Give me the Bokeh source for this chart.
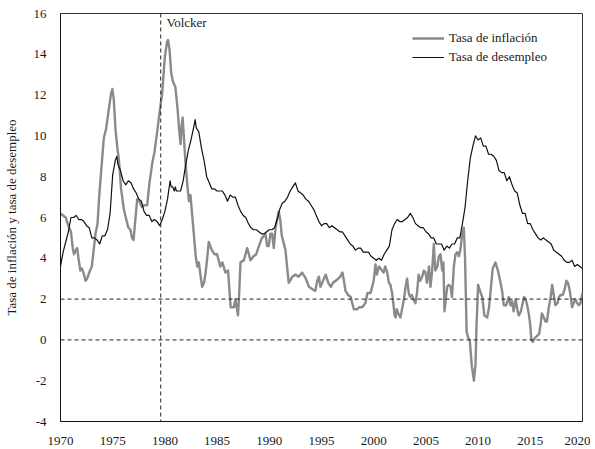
from bokeh.plotting import figure
from bokeh.models import Span, Label, Legend, LegendItem, FixedTicker, Range1d
from bokeh.embed import file_html
from bokeh.resources import INLINE

# ---------------- data ----------------
unemp_t = [1970.0, 1970.25, 1970.5, 1970.75,
           1971.0, 1971.25, 1971.5, 1971.75, 1972.0, 1972.25, 1972.5, 1972.75,
           1973.0, 1973.25, 1973.5, 1973.75, 1974.0, 1974.25, 1974.5, 1974.75,
           1975.0, 1975.25, 1975.4, 1975.5, 1975.75, 1976.0, 1976.25, 1976.5, 1976.75,
           1977.0, 1977.25, 1977.5, 1977.75, 1978.0, 1978.25, 1978.5, 1978.75,
           1979.0, 1979.25, 1979.5, 1979.75, 1980.0, 1980.25, 1980.5, 1980.6, 1980.75,
           1980.9, 1981.0, 1981.1, 1981.25, 1981.5, 1981.75, 1982.0, 1982.25, 1982.5, 1982.75, 1982.9,
           1983.0, 1983.25, 1983.5, 1983.75, 1984.0, 1984.25, 1984.5, 1984.75,
           1985.0, 1985.25, 1985.5, 1985.75, 1986.0, 1986.25, 1986.5, 1986.75,
           1987.0, 1987.25, 1987.5, 1987.75, 1988.0, 1988.25, 1988.5, 1988.75,
           1989.0, 1989.25, 1989.5, 1989.75, 1990.0, 1990.25, 1990.5, 1990.75,
           1991.0, 1991.25, 1991.5, 1991.75, 1992.0, 1992.25, 1992.5, 1992.75,
           1993.0, 1993.25, 1993.5, 1993.75, 1994.0, 1994.25, 1994.5, 1994.75,
           1995.0, 1995.25, 1995.5, 1995.75, 1996.0, 1996.25, 1996.5, 1996.75,
           1997.0, 1997.25, 1997.5, 1997.75, 1998.0, 1998.25, 1998.5, 1998.75,
           1999.0, 1999.25, 1999.5, 1999.75, 2000.0, 2000.25, 2000.5, 2000.75,
           2001.0, 2001.25, 2001.5, 2001.75, 2002.0, 2002.25, 2002.5, 2002.75,
           2003.0, 2003.25, 2003.5, 2003.75, 2004.0, 2004.25, 2004.5, 2004.75,
           2005.0, 2005.25, 2005.5, 2005.75, 2006.0, 2006.25, 2006.5, 2006.75,
           2007.0, 2007.25, 2007.5, 2007.75, 2008.0, 2008.25, 2008.5, 2008.75,
           2009.0, 2009.25, 2009.5, 2009.75, 2010.0, 2010.25, 2010.5, 2010.75,
           2011.0, 2011.25, 2011.5, 2011.75, 2012.0, 2012.25, 2012.5, 2012.75,
           2013.0, 2013.25, 2013.5, 2013.75, 2014.0, 2014.25, 2014.5, 2014.75,
           2015.0, 2015.25, 2015.5, 2015.75, 2016.0, 2016.25, 2016.5, 2016.75,
           2017.0, 2017.25, 2017.5, 2017.75, 2018.0, 2018.25, 2018.5, 2018.75,
           2019.0, 2019.25, 2019.5, 2019.75, 2020.0]
unemp_v = [3.6, 4.3, 4.8, 5.3,
           6.0, 6.0, 6.1, 5.9, 5.9, 5.8, 5.6, 5.5,
           5.0, 5.0, 4.9, 4.7, 5.1, 5.1, 5.4, 6.2,
           8.1, 8.8, 9.0, 8.6, 8.3, 7.8, 7.6, 7.8, 7.7,
           7.4, 7.2, 6.9, 6.8, 6.3, 6.1, 6.1, 5.8,
           5.9, 5.8, 5.6, 5.9, 6.3, 6.9, 7.8, 7.5, 7.5,
           7.3, 7.5, 7.3, 7.3, 7.3, 7.8, 8.6, 9.3, 9.8, 10.4, 10.8,
           10.4, 10.2, 9.4, 8.8, 8.0, 7.7, 7.4, 7.4,
           7.3, 7.3, 7.3, 7.1, 6.8, 7.1, 7.0, 7.0,
           6.6, 6.3, 6.1, 6.0, 5.7, 5.5, 5.4, 5.4,
           5.3, 5.2, 5.2, 5.3, 5.4, 5.4, 5.5, 5.9,
           6.4, 6.7, 6.8, 7.0, 7.3, 7.5, 7.7, 7.3,
           7.2, 7.1, 6.9, 6.8, 6.6, 6.4, 6.1, 5.8,
           5.6, 5.7, 5.7, 5.5, 5.6, 5.5, 5.4, 5.3,
           5.3, 5.1, 4.9, 4.7, 4.6, 4.4, 4.5, 4.5,
           4.3, 4.3, 4.3, 4.1, 4.0, 3.9, 4.0, 3.9,
           4.2, 4.4, 4.6, 5.4, 5.7, 5.9, 5.8, 5.8,
           5.9, 6.0, 6.2, 6.0, 5.7, 5.6, 5.5, 5.5,
           5.3, 5.2, 5.0, 5.0, 4.7, 4.7, 4.7, 4.4,
           4.6, 4.5, 4.7, 4.7, 5.0, 5.0, 5.7, 6.5,
           7.8, 8.9, 9.5, 10.0, 9.8, 9.9, 9.5, 9.5,
           9.1, 9.1, 9.0, 8.8, 8.3, 8.2, 8.2, 7.8,
           8.0, 7.6, 7.3, 7.2, 6.6, 6.2, 6.2, 5.7,
           5.7, 5.4, 5.2, 5.0, 4.9, 5.0, 4.9, 4.8,
           4.7, 4.4, 4.3, 4.2, 4.1, 3.9, 3.8, 3.8,
           3.9, 3.6, 3.7, 3.6, 3.5]

infl_t = [1970.0, 1970.25, 1970.5, 1970.75, 1971.0, 1971.2, 1971.3, 1971.45, 1971.6, 1971.75,
          1971.9, 1972.05, 1972.2, 1972.4, 1972.55, 1972.75, 1973.0, 1973.2, 1973.35, 1973.55,
          1973.7, 1973.9, 1974.15, 1974.35, 1974.6, 1974.85, 1974.97, 1975.1, 1975.27, 1975.45,
          1975.6, 1975.8, 1976.07, 1976.3, 1976.5, 1976.7, 1976.85, 1977.0, 1977.15, 1977.35,
          1977.55, 1977.8, 1978.0, 1978.3, 1978.5, 1978.8, 1979.0, 1979.26, 1979.5, 1979.74,
          1980.0, 1980.2, 1980.3, 1980.45, 1980.6, 1980.75, 1981.0, 1981.2, 1981.35, 1981.5,
          1981.6, 1981.7, 1981.8, 1981.97, 1982.15, 1982.3, 1982.45, 1982.6, 1982.77, 1982.95,
          1983.1, 1983.25, 1983.4, 1983.57, 1983.75, 1983.9, 1984.05, 1984.2, 1984.35, 1984.5,
          1984.75, 1985.0, 1985.3, 1985.5, 1985.8, 1986.05, 1986.2, 1986.3, 1986.6, 1986.76,
          1986.9, 1987.0, 1987.1, 1987.24, 1987.56, 1987.88, 1988.2, 1988.5, 1988.75, 1989.0,
          1989.3, 1989.5, 1989.63, 1989.8, 1989.95, 1990.1, 1990.27, 1990.43, 1990.6, 1990.9,
          1991.05, 1991.2, 1991.55, 1991.7, 1991.86, 1992.0, 1992.2, 1992.5, 1992.8, 1993.15,
          1993.5, 1993.8, 1994.1, 1994.4, 1994.6, 1994.75, 1994.9, 1995.15, 1995.4, 1995.65,
          1995.9, 1996.1, 1996.35, 1996.6, 1996.8, 1997.0, 1997.15, 1997.3, 1997.55, 1997.8,
          1998.0, 1998.1, 1998.4, 1998.6, 1998.9, 1999.2, 1999.4, 1999.7, 1999.85, 2000.0,
          2000.17, 2000.3, 2000.5, 2000.65, 2000.8, 2000.95, 2001.1, 2001.3, 2001.45, 2001.6,
          2001.76, 2001.9, 2002.0, 2002.1, 2002.2, 2002.35, 2002.56, 2002.75, 2002.9, 2003.05,
          2003.2, 2003.35, 2003.5, 2003.65, 2003.8, 2004.0, 2004.15, 2004.3, 2004.45, 2004.64,
          2004.8, 2004.96, 2005.1, 2005.3, 2005.44, 2005.6, 2005.76, 2005.9, 2006.1, 2006.24,
          2006.4, 2006.56, 2006.68, 2006.78, 2006.9, 2007.04, 2007.2, 2007.36, 2007.5, 2007.68,
          2007.84, 2008.0, 2008.16, 2008.3, 2008.45, 2008.63, 2008.75, 2008.9, 2009.05, 2009.2,
          2009.4, 2009.6, 2009.75, 2009.85, 2010.0, 2010.25, 2010.4, 2010.6, 2010.87, 2011.05,
          2011.2, 2011.4, 2011.66, 2011.9, 2012.15, 2012.3, 2012.46, 2012.7, 2012.94, 2013.1,
          2013.25, 2013.4, 2013.6, 2013.75, 2013.9, 2014.1, 2014.4, 2014.55, 2014.7, 2014.85,
          2015.0, 2015.1, 2015.23, 2015.45, 2015.65, 2015.85, 2016.0, 2016.1, 2016.3, 2016.45,
          2016.6, 2016.77, 2016.95, 2017.1, 2017.25, 2017.4, 2017.6, 2017.75, 2017.9, 2018.1,
          2018.3, 2018.45, 2018.6, 2018.75, 2018.9, 2019.0, 2019.15, 2019.3, 2019.5, 2019.65,
          2019.8, 2020.0]
infl_v = [6.2, 6.1, 6.0, 5.6, 5.3, 4.4, 4.2, 4.4, 4.5, 3.9,
          3.4, 3.5, 3.3, 2.9, 3.0, 3.3, 3.6, 4.5, 5.2, 5.7,
          7.0, 8.3, 9.9, 10.3, 11.2, 12.1, 12.3, 11.8, 10.3, 9.4,
          8.8, 7.4, 6.4, 5.9, 5.5, 5.4, 5.0, 4.9, 5.8, 6.9,
          6.8, 6.5, 6.6, 6.6, 7.6, 8.7, 9.2, 10.2, 11.2, 12.1,
          13.9, 14.6, 14.7, 14.2, 13.1, 12.7, 12.4, 11.4, 10.4, 9.6,
          10.5, 10.9, 10.1, 8.7, 7.6, 6.8, 7.1, 6.2, 5.2, 4.1,
          3.6, 3.8, 3.2, 2.6, 2.8, 3.3, 4.0, 4.8, 4.6, 4.4,
          4.2, 4.2, 3.6, 3.8, 3.3, 3.4, 2.3, 1.6, 1.6, 2.0,
          1.5, 1.2, 2.1, 3.8, 3.9, 4.5, 3.9, 4.1, 4.2, 4.6,
          5.0, 5.1, 5.2, 4.6, 4.6, 5.2, 5.2, 4.5, 5.5, 6.3,
          5.9, 5.1, 4.4, 3.6, 2.8, 2.9, 3.1, 3.2, 3.1, 3.3,
          3.0, 2.6, 2.5, 2.4, 2.9, 3.1, 2.6, 2.9, 3.2, 2.8,
          2.6, 2.8, 2.9, 3.0, 3.1, 3.3, 2.9, 2.4, 2.2, 2.1,
          1.7, 1.5, 1.5, 1.6, 1.6, 1.8, 2.3, 2.3, 2.6, 2.9,
          3.7, 3.2, 3.6, 3.5, 3.4, 3.3, 3.6, 3.3, 2.8, 2.7,
          2.3, 1.7, 1.2, 1.1, 1.5, 1.3, 1.1, 1.6, 2.0, 2.6,
          3.0, 2.3, 2.1, 2.2, 2.0, 1.8, 2.3, 3.2, 2.9, 3.1,
          3.4, 3.3, 2.8, 3.6, 2.6, 3.4, 4.7, 3.4, 3.6, 4.1,
          4.2, 3.4, 3.8, 1.4, 2.0, 2.6, 2.7, 2.6, 2.1, 3.6,
          4.2, 4.3, 4.1, 4.4, 5.1, 5.5, 4.0, 0.4, 0.1, 0.0,
          -1.3, -2.0, -1.2, 0.7, 2.7, 2.3, 2.1, 1.2, 1.1, 1.6,
          2.4, 3.5, 3.8, 3.4, 2.8, 2.4, 1.7, 1.7, 2.1, 1.7,
          1.9, 1.4, 2.0, 1.5, 1.2, 1.4, 2.1, 2.0, 1.7, 1.3,
          0.7, 0.0, -0.1, 0.1, 0.2, 0.3, 0.8, 1.3, 1.1, 0.9,
          0.9, 1.6, 2.1, 2.7, 2.2, 1.7, 1.8, 2.1, 2.2, 2.2,
          2.5, 2.9, 2.8, 2.5, 2.0, 1.6, 1.8, 2.0, 1.8, 1.7,
          1.8, 2.3]

x_ticks = [1970, 1975, 1980, 1985, 1990, 1995, 2000, 2005, 2010, 2015, 2020]
y_ticks = [-4, -2, 0, 2, 4, 6, 8, 10, 12, 14, 16]
volcker_year = 1979.6
volcker_text = "Volcker"
ref_levels = [2, 0]
series_names = ["Tasa de inflación", "Tasa de desempleo"]
y_title = "Tasa de inflación y tasa de desempleo"

FONT = "Liberation Serif"
TXT = "#1a1a1a"

p = figure(width=590, height=447,
           x_range=Range1d(1970, 2020), y_range=Range1d(-4, 16),
           output_backend="svg", toolbar_location=None,
           min_border_left=60, min_border_right=8,
           min_border_top=13, min_border_bottom=25)

p.xgrid.visible = False
p.ygrid.visible = False
p.outline_line_color = "#333333"
p.outline_line_width = 1
p.background_fill_color = "white"
p.border_fill_color = "white"

for ax in (p.xaxis[0], p.yaxis[0]):
    ax.major_tick_line_color = None
    ax.minor_tick_line_color = None
    ax.axis_line_color = "#111111"
    ax.major_label_text_font = FONT
    ax.major_label_text_font_size = "13px"
    ax.major_label_text_color = TXT

p.xaxis.ticker = FixedTicker(ticks=x_ticks)
p.yaxis.ticker = FixedTicker(ticks=y_ticks)
p.xaxis.major_label_overrides = {t: str(t) for t in x_ticks}
p.yaxis.major_label_overrides = {t: str(t) for t in y_ticks}
p.xaxis.major_label_standoff = 9
p.yaxis.major_label_standoff = 8

p.yaxis.axis_label = y_title
p.yaxis.axis_label_text_font = FONT
p.yaxis.axis_label_text_font_size = "13px"
p.yaxis.axis_label_text_font_style = "normal"
p.yaxis.axis_label_text_color = TXT
p.yaxis.axis_label_standoff = 12

for lv in ref_levels:
    p.add_layout(Span(location=lv, dimension="width", line_color="#222222",
                      line_width=1, line_dash="4 3"))
p.add_layout(Span(location=volcker_year, dimension="height", line_color="#222222",
                  line_width=1, line_dash="4 3"))
p.add_layout(Label(x=volcker_year + 0.55, y=15.55, text=volcker_text,
                   text_font=FONT, text_font_size="13px", text_color=TXT,
                   text_baseline="middle", text_align="left"))

r_inf = p.line(infl_t, infl_v, line_color="#8a8a8a", line_width=2.4,
               line_join="round")
r_une = p.line(unemp_t, unemp_v, line_color="#111111", line_width=1.2,
               line_join="round")

legend = Legend(items=[LegendItem(label=series_names[0], renderers=[r_inf]),
                       LegendItem(label=series_names[1], renderers=[r_une])],
                location=(352, 356), orientation="vertical",
                glyph_width=32, glyph_height=16, label_height=16,
                label_standoff=5, spacing=3, padding=0, margin=0,
                label_text_font=FONT, label_text_font_size="13px",
                label_text_color=TXT,
                border_line_alpha=0, background_fill_alpha=0)
p.add_layout(legend, "center")

open("out.html", "w").write(file_html(p, INLINE))
